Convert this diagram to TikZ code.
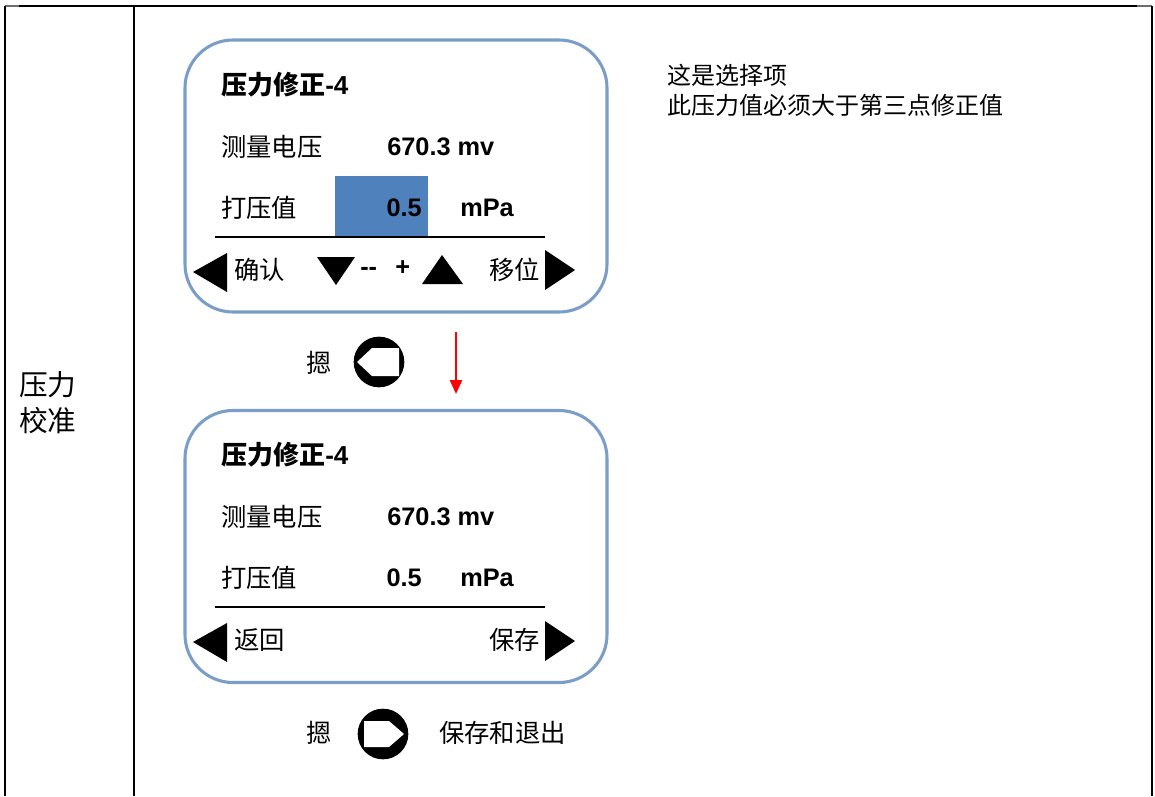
\documentclass[tikz,border=0pt]{standalone}
\usepackage{fontspec}
\setmainfont{Liberation Sans}
\newfontfamily\cjk{Noto Sans CJK SC}
\usetikzlibrary{arrows.meta}
\definecolor{boxblue}{RGB}{122,158,200}
\definecolor{fillblue}{RGB}{79,129,189}
\definecolor{edgegray}{RGB}{110,110,110}
\begin{document}
\begin{tikzpicture}[x=0.75pt,y=-0.75pt,
  panel/.style={draw=boxblue, line width=2.3pt, rounded corners=36pt,
    minimum width=316.5pt, minimum height=204pt, inner sep=0},
  lbl/.style={font=\cjk\fontsize{19}{22}\selectfont, anchor=west, inner sep=0},
  ttl/.style={font=\cjk\bfseries\fontsize{19.5}{22}\selectfont, anchor=west, inner sep=0},
  num/.style={font=\bfseries\fontsize{19}{22}\selectfont, anchor=west, inner sep=0},
  numr/.style={num, anchor=east},
  side/.style={font=\cjk\fontsize{18}{22.5}\selectfont, anchor=west, inner sep=0, align=left},
  divider/.style={line width=1pt, black},
  tri/.style={fill=black},
  knob/.style={circle, fill=black, minimum size=38pt, inner sep=0},
  redarrow/.style={draw=red, line width=1.8pt, -{Triangle[length=10.5pt,width=9pt]}},
  rule/.style={line width=1pt, black},
  toprule/.style={line width=2pt, black}
]
\useasboundingbox (0,0) rectangle (1155,796);
\fill[white] (0,0) rectangle (1155,796);

% table
\coordinate (tl) at (5,6);
\coordinate (tla) at (19,6);
\coordinate (tra) at (1137,6);
\coordinate (tr) at (1152,6);
\coordinate (bl) at (5,796);
\coordinate (mt) at (134,6);
\coordinate (mb) at (134,796);
\coordinate (br) at (1152,796);
\draw[toprule] (tla) -- (tra);
\draw[edgegray, line width=1pt] (tl) -- (tla);
\draw[edgegray, line width=1pt] (tra) -- (tr);
\draw[rule] (tl) -- (bl);
\draw[rule] (mt) -- (mb);
\draw[rule] (tr) -- (br);

\node[font=\cjk\fontsize{21.5}{27}\selectfont, anchor=west, inner sep=0, align=left] (cat) at (19,403) {压力\\校准};

\node[side] (note) at (667,90) {这是选择项\\此压力值必须大于第三点修正值};

% ---------- panel 1 ----------
\node[panel] (p1) at (396,176) {};
\node[ttl] (t1) at (221,85) {压力修正{\rmfamily -4}};
\node[lbl] (v1l) at (221,147) {测量电压};
\node[num] (v1) at (387,147) {670.3 mv};
\node[lbl] (d1l) at (221,208) {打压值};
\node[fill=fillblue, minimum width=69.75pt, minimum height=46.5pt, inner sep=0] (sel) at (381.5,207) {};
\node[numr] (d1) at (422,208) {0.5};
\node[num] (u1) at (460,208) {mPa};
\coordinate (l1a) at (215,237);
\coordinate (l1b) at (545,237);
\draw[divider] (l1a) -- (l1b);
\fill[tri] (193,272) -- (227,253) -- (227,292) -- cycle;
\node[lbl] (ok) at (234,270) {确认};
\fill[tri] (317,257) -- (355,257) -- (336,285) -- cycle;
\node[num] (minus) at (360,271) {\mbox{-}\mbox{-}};
\node[num] (plus) at (395,268) {+};
\fill[tri] (422,284) -- (463,284) -- (442,255) -- cycle;
\node[lbl] (mv) at (489,270) {移位};
\fill[tri] (545,250) -- (575,270) -- (545,290) -- cycle;

% ---------- between ----------
\node[lbl] (press1) at (306,363) {摁};
\node[knob] (k1) at (379,362) {};
\fill[white, shift={(k1.center)}] (-22,0) -- (-7,-14) -- (20,-14) -- (20,14) -- (-7,14) -- cycle;
\coordinate (a1) at (456,332);
\coordinate (a2) at (456,394);
\draw[redarrow] (a1) -- (a2);

% ---------- panel 2 ----------
\node[panel] (p2) at (396,546.5) {};
\node[ttl] (t2) at (221,455) {压力修正{\rmfamily -4}};
\node[lbl] (v2l) at (221,517) {测量电压};
\node[num] (v2) at (387,517) {670.3 mv};
\node[lbl] (d2l) at (221,578) {打压值};
\node[numr] (d2) at (422,578) {0.5};
\node[num] (u2) at (460,578) {mPa};
\coordinate (l2a) at (215,607);
\coordinate (l2b) at (545,607);
\draw[divider] (l2a) -- (l2b);
\fill[tri] (193,642) -- (227,623) -- (227,662) -- cycle;
\node[lbl] (back) at (234,640) {返回};
\node[lbl] (save) at (489,640) {保存};
\fill[tri] (545,621) -- (575,641) -- (545,661) -- cycle;

\node[lbl] (press2) at (306,733) {摁};
\node[knob] (k2) at (383,734) {};
\fill[white, shift={(k2.center)}] (21,0) -- (6,-13) -- (-19,-13) -- (-19,13) -- (6,13) -- cycle;
\node[lbl] (exit) at (439,733) {保存和退出};
\end{tikzpicture}
\end{document}
